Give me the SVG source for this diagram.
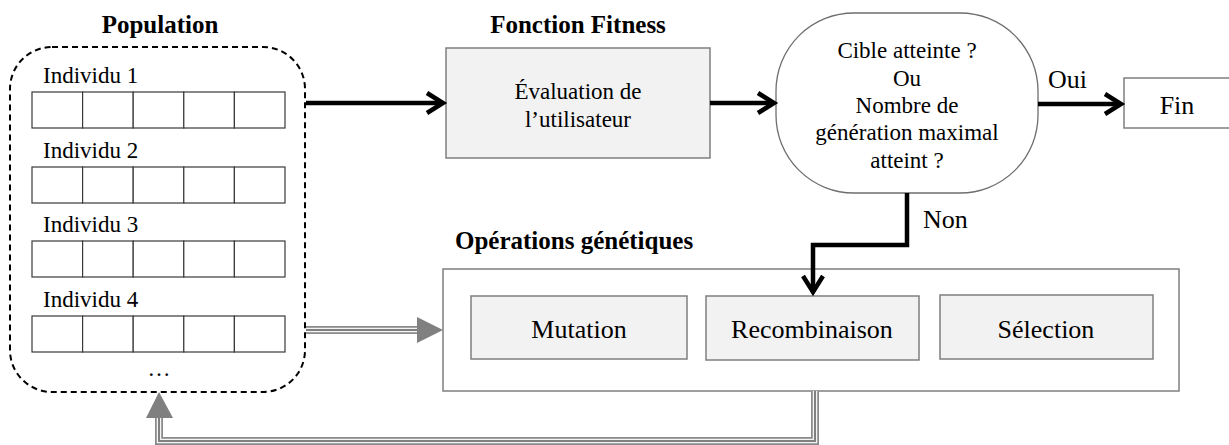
<svg xmlns="http://www.w3.org/2000/svg" width="1229" height="445" viewBox="0 0 1229 445">
<style>
text{font-family:'Liberation Serif','DejaVu Serif',serif;fill:#000}
.b{font-weight:bold;font-size:25px}
.r23{font-size:23px}
.r26{font-size:26px}
.cell{fill:#fff;stroke:#3a3a3a;stroke-width:1.2}
.box{fill:#f2f2f2;stroke:#7f7f7f;stroke-width:1.5}
.blk{fill:none;stroke:#000;stroke-width:4.5}
.chev{fill:none;stroke:#000;stroke-width:4.5;stroke-linejoin:miter}
.g1{fill:none;stroke:#8a8a8a;stroke-width:8}
.g2{fill:none;stroke:#f4f4f4;stroke-width:4.5}
.g3{fill:none;stroke:#808080;stroke-width:2}
.gh{fill:#808080}
</style>
<defs>
<g id="row">
<rect class="cell" x="0" y="0" width="50.6" height="36"/>
<rect class="cell" x="50.6" y="0" width="50.6" height="36"/>
<rect class="cell" x="101.2" y="0" width="50.6" height="36"/>
<rect class="cell" x="151.8" y="0" width="50.6" height="36"/>
<rect class="cell" x="202.4" y="0" width="50.6" height="36"/>
</g>
</defs>

<g id="population">
<text class="b" x="160" y="33" text-anchor="middle">Population</text>
<rect x="10" y="47" width="295" height="345" rx="42" ry="42" fill="none" stroke="#000" stroke-width="2" stroke-dasharray="6 4"/>
<text class="r23" x="43" y="83">Individu 1</text>
<use href="#row" x="32" y="92"/>
<text class="r23" x="43" y="158">Individu 2</text>
<use href="#row" x="32" y="167"/>
<text class="r23" x="43" y="232">Individu 3</text>
<use href="#row" x="32" y="241"/>
<text class="r23" x="43" y="307">Individu 4</text>
<use href="#row" x="32" y="316"/>
<text class="r23" x="159" y="376" text-anchor="middle">…</text>
</g>

<g id="fitness">
<text class="b" x="578" y="33" text-anchor="middle">Fonction Fitness</text>
<rect class="box" x="446" y="48" width="264" height="110"/>
<text class="r23" x="578" y="99" text-anchor="middle">Évaluation de</text>
<text class="r23" x="578" y="127" text-anchor="middle">l’utilisateur</text>
</g>

<g id="decision">
<rect x="776" y="13" width="262" height="180" rx="78" ry="78" fill="#fff" stroke="#6e6e6e" stroke-width="1.3"/>
<text class="r23" x="907" y="58" text-anchor="middle">Cible atteinte ?</text>
<text class="r23" x="907" y="86" text-anchor="middle">Ou</text>
<text class="r23" x="907" y="113" text-anchor="middle">Nombre de</text>
<text class="r23" x="907" y="140" text-anchor="middle">génération maximal</text>
<text class="r23" x="907" y="168" text-anchor="middle">atteint ?</text>
</g>

<g id="fin">
<rect x="1124" y="78" width="110" height="50" fill="#fff" stroke="#7f7f7f" stroke-width="1.5"/>
<text class="r26" x="1177" y="114" text-anchor="middle">Fin</text>
</g>

<g id="operations">
<text class="b" x="455" y="249">Opérations génétiques</text>
<rect x="443" y="269" width="736" height="122" fill="#fff" stroke="#7f7f7f" stroke-width="1.5"/>
</g>
<g id="mutation">
<rect class="box" x="471" y="296" width="216" height="63"/>
<text class="r26" x="579" y="338" text-anchor="middle">Mutation</text>
</g>
<g id="recombinaison">
<rect class="box" x="706" y="296" width="213" height="64"/>
<text class="r26" x="812" y="338" text-anchor="middle">Recombinaison</text>
</g>
<g id="selection">
<rect class="box" x="940" y="295" width="213" height="64"/>
<text class="r26" x="1046" y="338" text-anchor="middle">Sélection</text>
</g>

<g id="connectors">
<line class="blk" x1="306" y1="103" x2="442" y2="103"/>
<polyline class="chev" points="427,93 443,103 427,113"/>
<line class="blk" x1="710" y1="103" x2="773" y2="103"/>
<polyline class="chev" points="758,93 774,103 758,113"/>
<line class="blk" x1="1038" y1="104" x2="1120" y2="104"/>
<polyline class="chev" points="1105,94 1121,104 1105,114"/>
<text class="r26" x="1048" y="88">Oui</text>
<polyline class="blk" points="907,193 907,245 813,245 813,291"/>
<polyline class="chev" points="803,276 813,292 823,276"/>
<text class="r26" x="923" y="228">Non</text>

<g>
<line class="g1" x1="306" y1="330" x2="419" y2="330"/>
<line class="g2" x1="306" y1="330" x2="419" y2="330"/>
<line class="g3" x1="306" y1="330" x2="419" y2="330"/>
<polygon class="gh" points="417,317 443,330 417,343"/>
</g>
<g>
<polyline class="g1" points="815,391 815,441 159,441 159,416"/>
<polyline class="g2" points="815,391 815,441 159,441 159,416"/>
<polyline class="g3" points="815,391 815,441 159,441 159,416"/>
<polygon class="gh" points="146,418 159,392 173,418"/>
</g>
</g>
</svg>
